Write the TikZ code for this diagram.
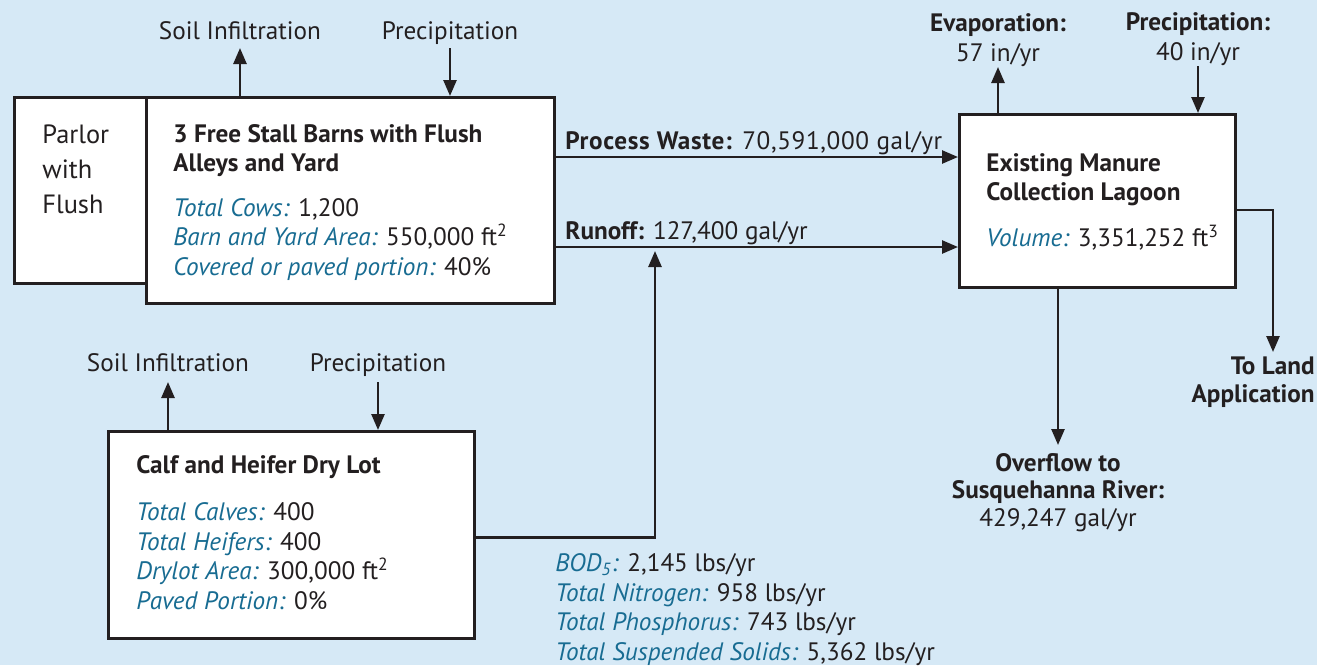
\documentclass[tikz,border=0pt]{standalone}
\usepackage{fontspec}
\setmainfont{PT Sans}
\usepackage{tikz}
\usetikzlibrary{positioning,arrows.meta}
\definecolor{bgblue}{RGB}{214,233,246}
\definecolor{lblblue}{RGB}{24,108,146}
\definecolor{ink}{RGB}{35,31,32}
\newcommand{\lbl}[1]{{\color{lblblue}\itshape #1}}

\begin{document}
\begin{tikzpicture}[x=0.5pt, y=-0.5pt, color=ink, font=\fontsize{12.6}{14.75}\selectfont,
    box/.style={draw=ink, line width=1.6pt, fill=white, anchor=north west, inner sep=0pt},
    info/.style={align=left, anchor=base west, inner sep=0pt},
    flowlbl/.style={align=center, inner xsep=0pt},
    flow/.style={draw=ink, line width=1.3pt, -{Triangle[length=8pt, width=6.5pt]}}]
    \fill[bgblue] (0,0) rectangle (1317,665);
    \useasboundingbox (0,0) rectangle (1317,665);

    \node[box, minimum width=67pt, minimum height=93pt] (parlor) at (13,96) {};
    \node[box, minimum width=204pt, minimum height=103pt] (barn) at (145,96) {};
    \node[box, minimum width=138pt, minimum height=86.5pt] (lagoon) at (958,113) {};
    \node[box, minimum width=183pt, minimum height=103.5pt] (drylot) at (107,430) {};

    % text blocks, placed at the baseline of their last line
    \node[info, font=\fontsize{13.2}{17.5}\selectfont] (parlortxt) at (42,213) {Parlor\\with\\Flush};
    \node[info] (barntxt) at (173,275) {\textbf{3 Free Stall Barns with Flush}\\\textbf{Alleys and Yard}\\[7.5pt]
      \lbl{Total Cows:} 1,200\\ \lbl{Barn and Yard Area:} 550,000 ft\textsuperscript{2}\\ \lbl{Covered or paved portion:} 40\%};
    \node[info] (lagoontxt) at (986,246) {\textbf{Existing Manure}\\\textbf{Collection Lagoon}\\[8pt]
      \lbl{Volume:} 3,351,252 ft\textsuperscript{3}};
    \node[info] (drylottxt) at (136,609) {\textbf{Calf and Heifer Dry Lot}\\[9pt]
      \lbl{Total Calves:} 400\\ \lbl{Total Heifers:} 400\\ \lbl{Drylot Area:} 300,000 ft\textsuperscript{2}\\ \lbl{Paved Portion:} 0\%};
    \node[info] (loads) at (555,660) {\lbl{BOD\textsubscript{5}:} 2,145 lbs/yr\\ \lbl{Total Nitrogen:} 958 lbs/yr\\
      \lbl{Total Phosphorus:} 743 lbs/yr\\ \lbl{Total Suspended Solids:} 5,362 lbs/yr};

    % inflows and outflows at the top of the boxes
    \node[flowlbl, text depth=0pt, inner ysep=4pt, anchor=south] (soilA) at (240,48) {Soil Infiltration};
    \node[flowlbl, text depth=0pt, inner ysep=4pt, anchor=south] (precA) at (450,48) {Precipitation};
    \node[flowlbl, text depth=0pt, inner ysep=5pt, anchor=south] (soilB) at (168,382) {Soil Infiltration};
    \node[flowlbl, text depth=0pt, inner ysep=5pt, anchor=south] (precB) at (378,382) {Precipitation};
    \node[flowlbl, inner ysep=0pt, anchor=south] (evap) at (998,67) {\textbf{Evaporation:}\\57 in/yr};
    \node[flowlbl, inner ysep=0pt, anchor=south] (precC) at (1198,66) {\textbf{Precipitation:}\\40 in/yr};
    \draw[flow] (soilA.south |- barn.north) -- (soilA.south);
    \draw[flow] (precA.south) -- (precA.south |- barn.north);
    \draw[flow] (soilB.south |- drylot.north) -- (soilB.south);
    \draw[flow] (precB.south) -- (precB.south |- drylot.north);
    \draw[flow] (evap.south |- lagoon.north) -- (evap.south);
    \draw[flow] (precC.south) -- (precC.south |- lagoon.north);

    % barns to lagoon
    \node[flowlbl, text depth=0pt, inner ysep=3.5pt, anchor=south west] (pwaste) at (565,157)
      {\addfontfeature{LetterSpace=2.5}\textbf{Process Waste:} 70,591,000 gal/yr};
    \node[flowlbl, text depth=0pt, inner ysep=3.5pt, anchor=south west] (runoff) at (565,247) {\textbf{Runoff:} 127,400 gal/yr};
    \draw[flow] (pwaste.south -| barn.east) -- (pwaste.south -| lagoon.west);
    \draw[flow] (runoff.south -| barn.east) -- (runoff.south -| lagoon.west);
    \coordinate (merge) at (655,251);
    \draw[flow] ([yshift=-1.25pt]drylot.east) -| (merge);

    % lagoon outlets
    \node[flowlbl, anchor=north, inner ysep=4pt, font=\fontsize{12.6}{13.75}\selectfont\bfseries] (overflow) at (1058,445)
      {Overflow to\\Susquehanna River:\\\mdseries 429,247 gal/yr};
    \node[flowlbl, align=right, anchor=north east, inner ysep=2pt, font=\fontsize{12.6}{14}\selectfont\bfseries] (toland) at (1315,352)
      {To Land\\Application};
    \draw[flow] (overflow.north |- lagoon.south) -- (overflow.north);
    \coordinate (landturn) at (1273,210);
    \draw[flow] (landturn -| lagoon.east) -- (landturn) -- (landturn |- toland.north);
\end{tikzpicture}
\end{document}
